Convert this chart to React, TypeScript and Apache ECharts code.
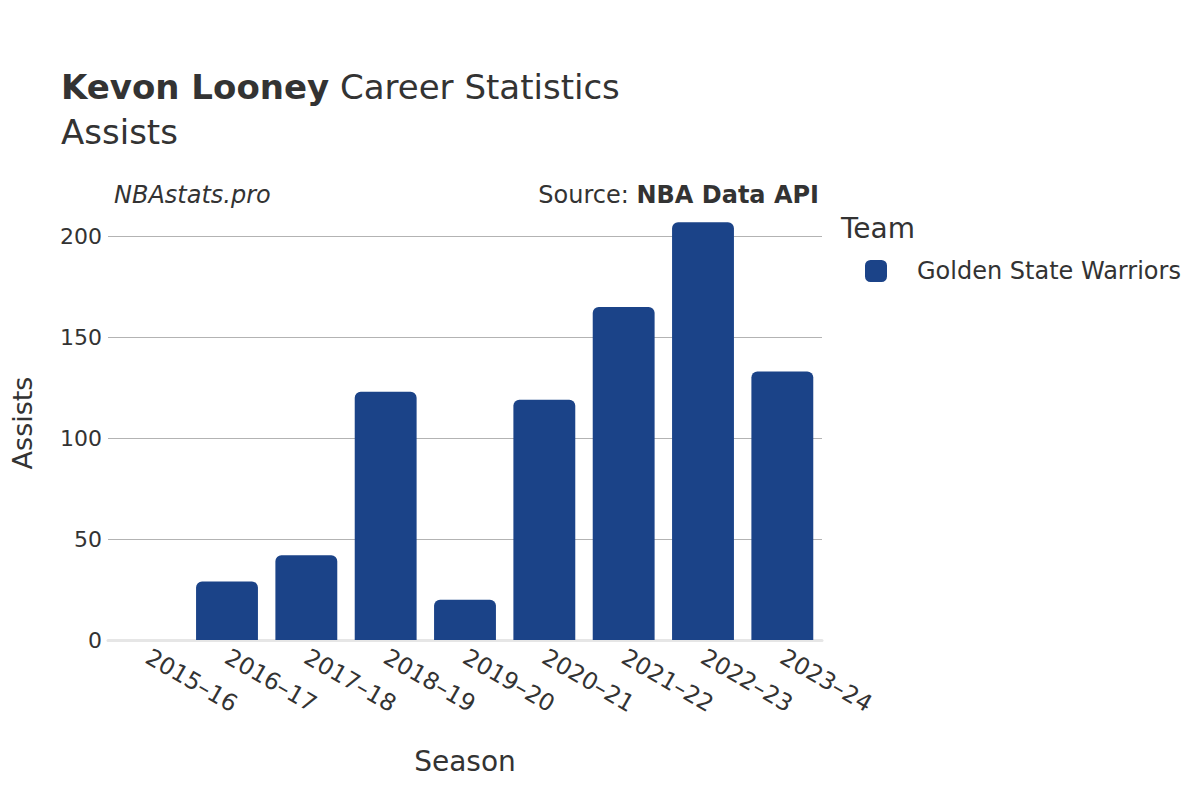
import React, { useEffect, useRef } from "react";
import * as echarts from "echarts";

const seasons = ["2015–16", "2016–17", "2017–18", "2018–19", "2019–20", "2020–21", "2021–22", "2022–23", "2023–24"];
const assists = [0, 29, 42, 123, 20, 119, 165, 207, 133];
const teamName = "Golden State Warriors";

export default function App() {
  const ref = useRef<HTMLDivElement>(null);
  useEffect(() => {
    if (!ref.current) return;
    const chart = echarts.init(ref.current, null, { renderer: "svg" });
    const font = "DejaVu Sans";
    chart.setOption({
      animation: false,
      backgroundColor: "#ffffff",
      textStyle: { fontFamily: font, color: "#333333" },
      title: [
        {
          text: "{b|Kevon Looney} Career Statistics",
          left: 48,
          top: 57,
          textStyle: {
            fontFamily: font,
            fontSize: 34,
            fontWeight: "normal",
            color: "#333333",
            rich: { b: { fontFamily: font, fontSize: 34, fontWeight: "bold", color: "#333333" } },
          },
        },
        {
          text: "Assists",
          left: 48,
          top: 102,
          textStyle: { fontFamily: font, fontSize: 34, fontWeight: "normal", color: "#333333" },
        },
        {
          text: "NBAstats.pro",
          left: 101,
          top: 170,
          textStyle: { fontFamily: font, fontSize: 24, fontStyle: "italic", fontWeight: "normal", color: "#333333" },
        },
        {
          text: "Source: {b|NBA Data API}",
          right: 384,
          top: 170,
          textStyle: {
            fontFamily: font,
            fontSize: 24,
            fontWeight: "normal",
            color: "#333333",
            rich: { b: { fontFamily: font, fontSize: 24, fontWeight: "bold", color: "#333333" } },
          },
        },
        {
          text: "Team",
          left: 828,
          top: 201,
          textStyle: { fontFamily: font, fontSize: 28, fontWeight: "normal", color: "#333333" },
        },
      ],
      legend: {
        left: 852,
        top: 246,
        orient: "vertical",
        icon: "roundRect",
        itemWidth: 22,
        itemHeight: 22,
        textStyle: { fontFamily: font, fontSize: 24, color: "#333333", padding: [0, 0, 0, 25] },
        data: [teamName],
      },
      grid: { left: 100, right: 386, top: 198, bottom: 168, containLabel: false, outerBoundsMode: "none" },
      xAxis: {
        type: "category",
        data: seasons,
        name: "Season",
        nameLocation: "middle",
        nameGap: 107,
        nameTextStyle: { fontFamily: font, fontSize: 28, color: "#333333" },
        axisLine: { show: true, lineStyle: { color: "#e6e6e6", width: 3 } },
        axisTick: { show: false },
        axisLabel: { rotate: -30, fontFamily: font, fontSize: 23.5, color: "#333333", margin: 15 },
      },
      yAxis: {
        type: "value",
        min: 0,
        max: 215,
        interval: 50,
        name: "Assists",
        nameLocation: "middle",
        nameGap: 72,
        nameTextStyle: { fontFamily: font, fontSize: 27, color: "#333333" },
        axisLine: { show: false },
        axisTick: { show: false },
        axisLabel: { fontFamily: font, fontSize: 22, color: "#333333", margin: 6, showMaxLabel: false },
        splitLine: { show: true, showMinLine: false, showMaxLine: false, lineStyle: { color: "#b3b3b3", width: 1 } },
      },
      series: [
        {
          name: teamName,
          type: "bar",
          data: assists,
          barCategoryGap: "22%",
          itemStyle: { color: "#1b4388", borderRadius: [6, 6, 0, 0] },
        },
      ],
    });
    return () => chart.dispose();
  }, []);
  return <div ref={ref} style={{ width: 1200, height: 800 }} />;
}
